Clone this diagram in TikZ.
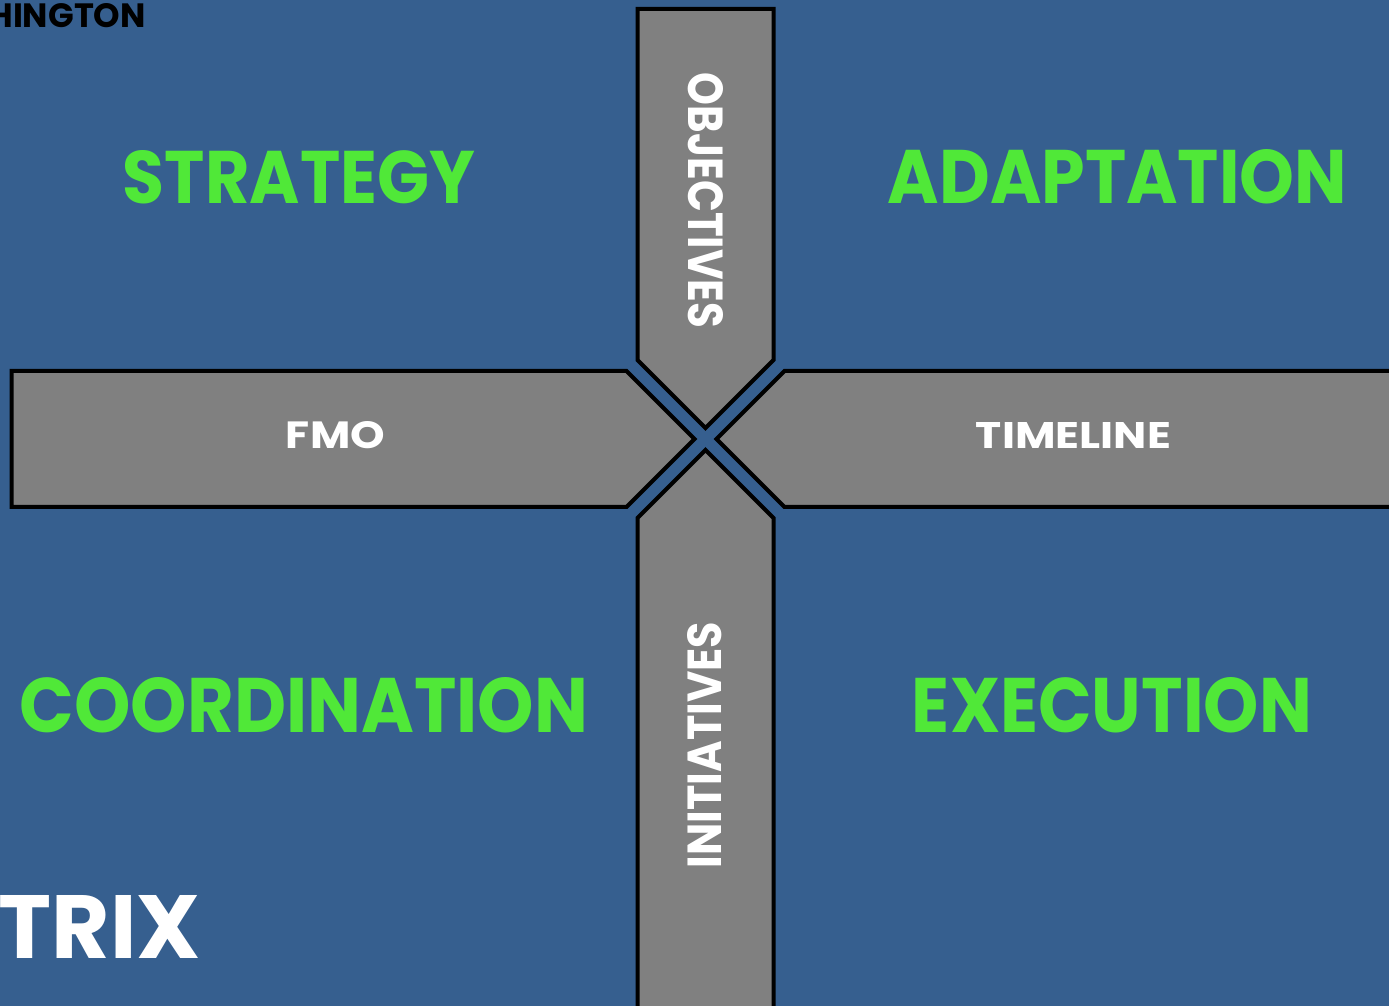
\documentclass[tikz,border=0pt]{standalone}
\usepackage{fontspec}
\setsansfont{Poppins}
\usepackage{graphicx}
\usepackage{tikz}
\usetikzlibrary{calc}
\definecolor{bgblue}{RGB}{54,95,143}
\definecolor{bargray}{RGB}{128,128,128}
\definecolor{quadgreen}{RGB}{80,232,56}
\tikzset{bar/.style={draw=black,line width=4pt,fill=bargray}}
\tikzset{quad/.style={text=quadgreen,inner sep=0pt,anchor=base}}
\tikzset{tag/.style={text=white,inner sep=0pt}}
\newcommand{\fitword}[3]{\resizebox{#1pt}{#2pt}{\sffamily\bfseries #3}}
\newcommand{\capword}[2]{\resizebox{!}{#1pt}{\sffamily\bfseries #2}}

\begin{document}
\begin{tikzpicture}[x=1pt,y=1pt]
  \useasboundingbox (0,0) rectangle (1389,1006);
  \clip (0,0) rectangle (1389,1006);
  \fill[bgblue] (0,0) rectangle (1389,1006);

  % the four bars, one shape turned round the centre
  \foreach \ang/\len in {90/430, 180/694, 0/700, 270/620}
    \draw[bar,shift={(705.5,567)},rotate=\ang]
      (11,0) -- (79,68) -- (\len,68) -- (\len,-68) -- (79,-68) -- cycle;

  % bar labels
  \node[tag,rotate=-90] (objectives) at (705.5,805.5) {\fitword{255}{35}{OBJECTIVES}};
  \node[tag,rotate=90] (initiatives) at (705,261) {\fitword{246}{34}{INITIATIVES}};
  \node[tag,anchor=base] (fmo) at (335.5,557) {\fitword{99}{27}{FMO}};
  \node[tag,anchor=base] (timeline) at (1073.5,557) {\fitword{195}{26}{TIMELINE}};

  % quadrants
  \node[quad] (strategy) at (299,802) {\fitword{352}{53}{STRATEGY}};
  \node[quad] (adaptation) at (1117.5,802) {\fitword{459}{54}{ADAPTATION}};
  \node[quad] (coordination) at (304,273) {\fitword{568}{55}{COORDINATION}};
  \node[quad] (execution) at (1112,273) {\fitword{400}{55}{EXECUTION}};

  % cut-off titles at the edges
  \node[inner sep=0pt,anchor=base east,text=black] (header) at (146,978) {\capword{24}{HINGTON}};
  \node[inner sep=0pt,anchor=base east,text=white] (title) at (201,48) {\capword{63}{ATRIX}};
\end{tikzpicture}
\end{document}
